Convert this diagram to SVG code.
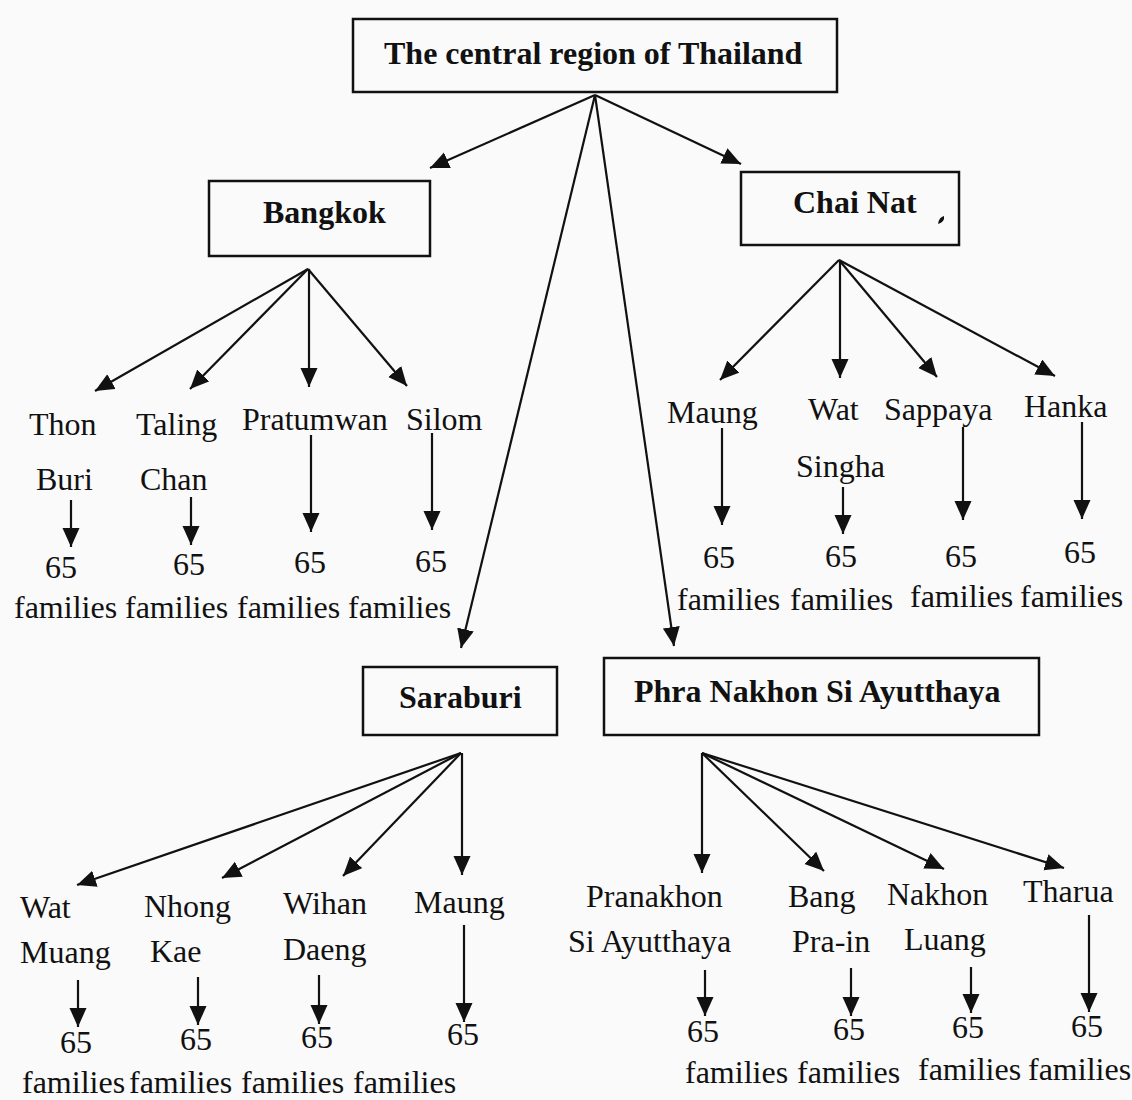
<svg xmlns="http://www.w3.org/2000/svg" width="1132" height="1100" viewBox="0 0 1132 1100">
<defs>
<marker id="ah" markerUnits="userSpaceOnUse" markerWidth="20" markerHeight="18" refX="19" refY="8.5" orient="auto">
<path d="M0,0 L19,8.5 L0,17 z" fill="#111"/>
</marker>
<style>
.box{fill:none;stroke:#111;stroke-width:2.5}
.t{font-family:"Liberation Serif","Times New Roman",serif;font-size:32px;fill:#111}
.b{font-family:"Liberation Serif","Times New Roman",serif;font-size:32px;font-weight:bold;fill:#111}
.c line{stroke:#111;stroke-width:2.2;marker-end:url(#ah)}
</style>
</defs>
<rect width="1132" height="1100" fill="#fafafa"/>

<g id="root">
<rect class="box" x="353" y="19" width="484" height="73"/>
<text class="b" x="384" y="64">The central region of Thailand</text>
</g>

<g id="bangkok">
<rect class="box" x="209" y="181" width="221" height="75"/>
<text class="b" x="263" y="223">Bangkok</text>
</g>

<g id="chainat">
<rect class="box" x="741" y="172" width="218" height="73"/>
<text class="b" x="793" y="213">Chai Nat</text>
<path d="M938,224 q1,-7 6,-8 q1,6 -6,8 z" fill="#111"/>
</g>

<g id="saraburi">
<rect class="box" x="363" y="667" width="194" height="68"/>
<text class="b" x="399" y="708">Saraburi</text>
</g>

<g id="ayutthaya">
<rect class="box" x="604" y="658" width="435" height="77"/>
<text class="b" x="634" y="702">Phra Nakhon Si Ayutthaya</text>
</g>

<!-- Bangkok districts -->
<g id="thonburi">
<text class="t" x="29" y="435">Thon</text>
<text class="t" x="36" y="490">Buri</text>
<text class="t" x="45" y="578">65</text>
<text class="t" x="14" y="618">families</text>
</g>
<g id="talingchan">
<text class="t" x="136" y="435">Taling</text>
<text class="t" x="140" y="490">Chan</text>
<text class="t" x="173" y="575">65</text>
<text class="t" x="125" y="618">families</text>
</g>
<g id="pratumwan">
<text class="t" x="242" y="430">Pratumwan</text>
<text class="t" x="294" y="573">65</text>
<text class="t" x="237" y="618">families</text>
</g>
<g id="silom">
<text class="t" x="406" y="430">Silom</text>
<text class="t" x="415" y="572">65</text>
<text class="t" x="348" y="618">families</text>
</g>

<!-- Chai Nat districts -->
<g id="maung1">
<text class="t" x="667" y="423">Maung</text>
<text class="t" x="703" y="568">65</text>
<text class="t" x="677" y="610">families</text>
</g>
<g id="watsingha">
<text class="t" x="808" y="420">Wat</text>
<text class="t" x="796" y="477">Singha</text>
<text class="t" x="825" y="567">65</text>
<text class="t" x="790" y="610">families</text>
</g>
<g id="sappaya">
<text class="t" x="884" y="420">Sappaya</text>
<text class="t" x="945" y="567">65</text>
<text class="t" x="910" y="607">families</text>
</g>
<g id="hanka">
<text class="t" x="1024" y="417">Hanka</text>
<text class="t" x="1064" y="563">65</text>
<text class="t" x="1020" y="607">families</text>
</g>

<!-- Saraburi districts -->
<g id="watmuang">
<text class="t" x="20" y="918">Wat</text>
<text class="t" x="20" y="963">Muang</text>
<text class="t" x="60" y="1053">65</text>
<text class="t" x="22" y="1093">families</text>
</g>
<g id="nhongkae">
<text class="t" x="144" y="917">Nhong</text>
<text class="t" x="150" y="962">Kae</text>
<text class="t" x="180" y="1050">65</text>
<text class="t" x="129" y="1093">families</text>
</g>
<g id="wihandaeng">
<text class="t" x="283" y="914">Wihan</text>
<text class="t" x="283" y="960">Daeng</text>
<text class="t" x="301" y="1048">65</text>
<text class="t" x="241" y="1093">families</text>
</g>
<g id="maung2">
<text class="t" x="414" y="913">Maung</text>
<text class="t" x="447" y="1045">65</text>
<text class="t" x="353" y="1093">families</text>
</g>

<!-- Ayutthaya districts -->
<g id="pranakhon">
<text class="t" x="586" y="907">Pranakhon</text>
<text class="t" x="568" y="952">Si Ayutthaya</text>
<text class="t" x="687" y="1042">65</text>
<text class="t" x="685" y="1083">families</text>
</g>
<g id="bangpain">
<text class="t" x="788" y="907">Bang</text>
<text class="t" x="792" y="952">Pra-in</text>
<text class="t" x="833" y="1040">65</text>
<text class="t" x="797" y="1083">families</text>
</g>
<g id="nakhonluang">
<text class="t" x="887" y="905">Nakhon</text>
<text class="t" x="904" y="950">Luang</text>
<text class="t" x="952" y="1038">65</text>
<text class="t" x="918" y="1080">families</text>
</g>
<g id="tharua">
<text class="t" x="1023" y="902">Tharua</text>
<text class="t" x="1071" y="1037">65</text>
<text class="t" x="1028" y="1080">families</text>
</g>

<g id="connectors" class="c">
<line x1="595" y1="95" x2="430" y2="168"/>
<line x1="595" y1="95" x2="741" y2="164"/>
<line x1="595" y1="95" x2="461" y2="648"/>
<line x1="595" y1="95" x2="674" y2="646"/>

<line x1="308" y1="269" x2="95" y2="391"/>
<line x1="308" y1="269" x2="190" y2="389"/>
<line x1="309" y1="269" x2="309" y2="387"/>
<line x1="308" y1="269" x2="407" y2="386"/>

<line x1="839" y1="260" x2="720" y2="380"/>
<line x1="840" y1="260" x2="840" y2="378"/>
<line x1="839" y1="260" x2="937" y2="377"/>
<line x1="839" y1="260" x2="1055" y2="376"/>

<line x1="461" y1="753" x2="77" y2="885"/>
<line x1="461" y1="753" x2="222" y2="878"/>
<line x1="461" y1="753" x2="343" y2="876"/>
<line x1="462" y1="753" x2="462" y2="875"/>

<line x1="702" y1="753" x2="702" y2="873"/>
<line x1="702" y1="753" x2="824" y2="871"/>
<line x1="702" y1="753" x2="944" y2="869"/>
<line x1="702" y1="753" x2="1064" y2="868"/>

<line x1="71" y1="500" x2="71" y2="547"/>
<line x1="191" y1="497" x2="191" y2="545"/>
<line x1="311" y1="435" x2="311" y2="532"/>
<line x1="432" y1="433" x2="432" y2="530"/>

<line x1="722" y1="428" x2="722" y2="525"/>
<line x1="843" y1="487" x2="843" y2="534"/>
<line x1="963" y1="427" x2="963" y2="520"/>
<line x1="1082" y1="422" x2="1082" y2="519"/>

<line x1="78" y1="980" x2="78" y2="1027"/>
<line x1="198" y1="977" x2="198" y2="1025"/>
<line x1="319" y1="975" x2="319" y2="1024"/>
<line x1="464" y1="925" x2="464" y2="1022"/>

<line x1="705" y1="970" x2="705" y2="1016"/>
<line x1="851" y1="968" x2="851" y2="1016"/>
<line x1="971" y1="967" x2="971" y2="1013"/>
<line x1="1089" y1="915" x2="1089" y2="1012"/>
</g>
</svg>
